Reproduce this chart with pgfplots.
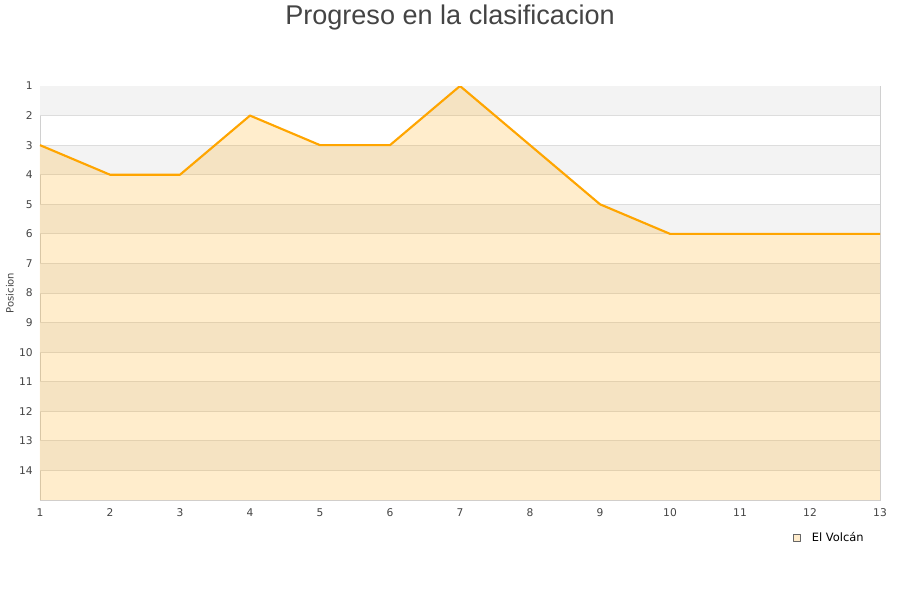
\documentclass[border=0pt]{standalone}
\usepackage{pgfplots}
\pgfplotsset{compat=1.18}
\usepackage{fontspec}
\setmainfont{DejaVu Sans}
\newfontfamily\titlefont{Liberation Sans}
\definecolor{bandgray}{HTML}{F3F3F3}
\definecolor{gridc}{HTML}{DDDDDD}
\definecolor{borderc}{HTML}{D0D0D0}
\definecolor{linec}{HTML}{FFA500}
\definecolor{txt}{HTML}{444444}
\definecolor{legfill}{HTML}{FFECCC}
\begin{document}
\begin{tikzpicture}[x=1pt,y=1pt]
\path[use as bounding box] (0,0) rectangle (675,450);
\node[font=\titlefont\fontsize{20.3}{24}\selectfont, text=txt] at (337.5,437) {Progreso en la clasificacion};
\node[font=\fontsize{7.5}{9}\selectfont, text=txt, rotate=90] at (7.5,230.25) {Posicion};
\begin{axis}[
  at={(30pt,75pt)}, anchor=south west,
  scale only axis, width=630pt, height=310.5pt,
  xmin=1, xmax=13, ymin=1, ymax=15, y dir=reverse,
  xtick={1,...,13}, ytick={1,...,14},
  major tick length=0pt,
  axis line style={draw=borderc},
  /pgf/number format/assume math mode=true,
  tick label style={font=\fontsize{8}{9}\selectfont, text=txt},
  yticklabel style={xshift=-2pt},
  xticklabel style={yshift=-3pt},
  clip=true,
  legend style={at={(axis description cs:0.896,0)}, anchor=north west, yshift=-22pt,
    draw=none, fill=none, inner sep=0pt, font=\fontsize{8.6}{10}\selectfont,
    legend cell align=left},
  legend image code/.code={\draw[draw=gray!80!black, fill=legfill, line width=0.5pt] (0pt,-2.8pt) rectangle (5.6pt,2.8pt); \path[draw=none, fill=none] (0pt,0pt) -- (12pt,0pt);},
]
% background bands
\foreach \k in {1,3,5,7,9,11,13} {
  \edef\tmp{\noexpand\fill[bandgray] (axis cs:1,\k) rectangle (axis cs:13,\k+1);}
  \tmp
}
\foreach \k in {2,...,14} {
  \edef\tmp{\noexpand\draw[gridc, line width=0.75pt] (axis cs:1,\k) -- (axis cs:13,\k);}
  \tmp
}
\addplot[draw=none, fill=linec, fill opacity=0.2, forget plot] coordinates {
(1,3) (2,4) (3,4) (4,2) (5,3) (6,3) (7,1) (8,3) (9,5) (10,6) (11,6) (12,6) (13,6) (13,15) (1,15)
};
\addplot[draw=linec, line width=1.6pt, line join=round] coordinates {
(1,3) (2,4) (3,4) (4,2) (5,3) (6,3) (7,1) (8,3) (9,5) (10,6) (11,6) (12,6) (13,6)
};
\addlegendentry{El Volcán}
\end{axis}
\end{tikzpicture}
\end{document}
